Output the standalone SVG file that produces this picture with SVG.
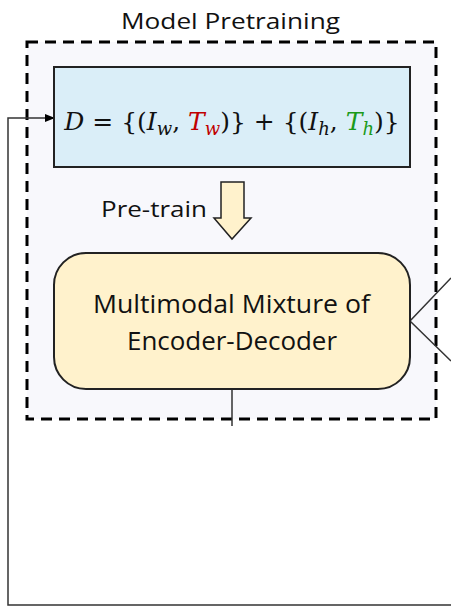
<svg xmlns="http://www.w3.org/2000/svg" width="451" height="608" viewBox="0 0 451 608">
  <defs>
    <marker id="arrowhead" markerWidth="10" markerHeight="8" refX="9" refY="4" orient="auto" markerUnits="userSpaceOnUse">
      <path d="M0,0 L10,4 L0,8 Z" fill="#000"/>
    </marker>
    <style>
      .label { font-family: "Open Sans", Lato, "Liberation Sans", sans-serif; fill: #111; }
      .math { font-family: "DejaVu Serif", "Liberation Serif", serif; font-style: italic; fill: #111; }
      .conn { fill: none; stroke: #333; stroke-width: 1.5; }
    </style>
  </defs>
  <rect width="451" height="608" fill="#fff"/>

  <!-- pretraining stage container -->
  <g id="pretraining-stage">
    <rect x="27" y="42" width="409" height="377" fill="#f8f8fc" stroke="#000" stroke-width="3" stroke-dasharray="11,7"/>
    <text class="label" x="121" y="29" font-size="22" textLength="219" lengthAdjust="spacingAndGlyphs">Model Pretraining</text>
  </g>

  <!-- connectors -->
  <g id="connectors">
    <path class="conn" d="M451,605 L8,605 L8,118 L54,118" marker-end="url(#arrowhead)"/>
    <path class="conn" d="M232,389 L232,426"/>
    <path class="conn" d="M451,278 L410,321 L451,361"/>
  </g>

  <!-- dataset -->
  <g id="dataset">
    <rect x="54" y="67" width="356" height="100" fill="#daeef8" stroke="#222" stroke-width="2"/>
    <text class="math" x="232" y="130" font-size="25" text-anchor="middle">D<tspan font-style="normal"> = {(</tspan>I<tspan font-size="18" dy="5">w</tspan><tspan dy="-5" font-style="normal">, </tspan><tspan fill="#c00000">T</tspan><tspan fill="#c00000" font-size="18" dy="5">w</tspan><tspan dy="-5" font-style="normal">)} + {(</tspan>I<tspan font-size="18" dy="5">h</tspan><tspan dy="-5" font-style="normal">, </tspan><tspan fill="#1a9a1a">T</tspan><tspan fill="#1a9a1a" font-size="18" dy="5">h</tspan><tspan dy="-5" font-style="normal">)}</tspan></text>
  </g>

  <!-- pre-train step -->
  <g id="pretrain-arrow">
    <path d="M221,182 L244,182 L244,218 L251,218 L232,239 L214,218 L221,218 Z" fill="#fff2cc" stroke="#222" stroke-width="1.5"/>
    <text class="label" x="101" y="217" font-size="22" textLength="106" lengthAdjust="spacingAndGlyphs">Pre-train</text>
  </g>

  <!-- model -->
  <g id="model">
    <rect x="54" y="253" width="356" height="136" rx="32" fill="#fff2cc" stroke="#222" stroke-width="2"/>
    <text class="label" x="93" y="313" font-size="25" textLength="277" lengthAdjust="spacingAndGlyphs">Multimodal Mixture of</text>
    <text class="label" x="127" y="350" font-size="25" textLength="210" lengthAdjust="spacingAndGlyphs">Encoder-Decoder</text>
  </g>
</svg>
